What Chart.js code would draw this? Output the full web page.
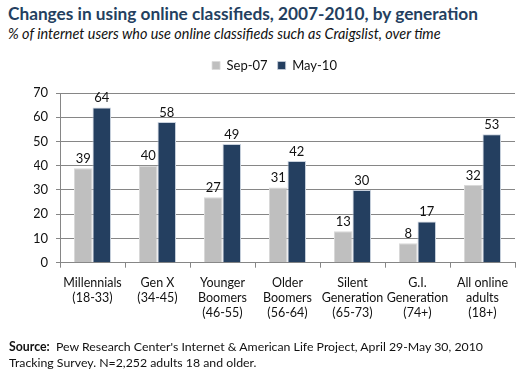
<!DOCTYPE html>
<html>
<head>
<meta charset="utf-8">
<script src="https://cdn.jsdelivr.net/npm/chart.js@4"></script>
<style>
  html, body { margin:0; padding:0; background:#fff; }
  body { width:530px; height:380px; position:relative; overflow:hidden; font-family: Lato, "Open Sans", sans-serif; }
  .txt { position:absolute; white-space:nowrap; }
  #title { left:8px; top:3px; font-size:19px; font-weight:bold; color:#243F60; }
  #subtitle { left:8px; top:25px; font-size:14px; font-style:italic; color:#111; }
  #source { left:9px; top:339px; font-size:12.5px; color:#111; line-height:16px; }
  #wrap { position:absolute; left:34px; top:45px; width:486px; height:305px; }
</style>
</head>
<body>
<div id="title" class="txt">Changes in using online classifieds, 2007-2010, by generation</div>
<div id="subtitle" class="txt">% of internet users who use online classifieds such as Craigslist, over time</div>
<div id="wrap"><canvas id="c"></canvas></div>
<div id="source" class="txt"><span id="src1"><b>Source:</b>&nbsp; Pew Research Center's Internet &amp; American Life Project, April 29-May 30, 2010</span><br>Tracking Survey. N=2,252 adults 18 and older.</div>
<script>
const categories = [
  ["Millennials", "(18-33)"],
  ["Gen X", "(34-45)"],
  ["Younger", "Boomers", "(46-55)"],
  ["Older", "Boomers", "(56-64)"],
  ["Silent", "Generation", "(65-73)"],
  ["G.I.", "Generation", "(74+)"],
  ["All online", "adults", "(18+)"]
];
const seriesNames = ["Sep-07", "May-10"];
const sep07 = [39, 40, 27, 31, 13, 8, 32];
const may10 = [64, 58, 49, 42, 30, 17, 53];
const yTicks = [0, 10, 20, 30, 40, 50, 60, 70];

// fit text widths to the reference
function fitWidth(el, measureEl, target) {
  let fs = parseFloat(getComputedStyle(el).fontSize);
  for (let k = 0; k < 6; k++) {
    const w = measureEl.getBoundingClientRect().width;
    fs = fs * target / w;
    el.style.fontSize = fs + 'px';
  }
}
fitWidth(document.getElementById('title'), document.getElementById('title'), 470);
fitWidth(document.getElementById('subtitle'), document.getElementById('subtitle'), 433);
fitWidth(document.getElementById('source'), document.getElementById('src1'), 474);

const FONT = 'Lato, "Open Sans", sans-serif';

const valueLabels = {
  id: 'valueLabels',
  beforeInit(chart) {
    const lg = chart.legend;
    if (lg) {
      const orig = lg.fit;
      lg.fit = function () { orig.call(this); this.height += 11; };
    }
  },
  afterDatasetsDraw(chart) {
    const ctx = chart.ctx;
    ctx.save();
    ctx.font = '13px ' + FONT;
    ctx.fillStyle = '#111';
    ctx.textAlign = 'center';
    ctx.textBaseline = 'bottom';
    chart.data.datasets.forEach((ds, di) => {
      const meta = chart.getDatasetMeta(di);
      meta.data.forEach((bar, i) => {
        ctx.fillText(String(ds.data[i]), bar.x, bar.y - 3);
      });
    });
    ctx.restore();
  }
};

new Chart(document.getElementById('c'), {
  type: 'bar',
  data: {
    labels: categories,
    datasets: [
      { label: seriesNames[0], data: sep07, backgroundColor: '#BFBFBF', borderColor: '#D9D9D9', borderWidth: {top:1,left:1,right:1,bottom:0}, categoryPercentage: 0.57, barPercentage: 1.0 },
      { label: seriesNames[1], data: may10, backgroundColor: '#243F60', borderColor: '#C9D2DE', borderWidth: {top:1,left:1,right:1,bottom:0}, categoryPercentage: 0.57, barPercentage: 1.0 }
    ]
  },
  options: {
    responsive: true,
    maintainAspectRatio: false,
    animation: false,
    layout: { padding: { left: 0, right: 5, top: 4, bottom: 0 } },
    plugins: {
      legend: {
        position: 'top',
        align: 'center',
        labels: { boxWidth: 8, boxHeight: 8, padding: 10, color: '#111', font: { family: FONT, size: 13 } }
      },
      tooltip: { enabled: false }
    },
    scales: {
      x: {
        offset: true,
        grid: { offset: true, drawOnChartArea: false, drawTicks: true, tickLength: 5, color: '#868686' },
        border: { color: '#868686' },
        ticks: { color: '#111', font: { family: FONT, size: 12.5 }, maxRotation: 0, autoSkip: false, padding: 8 },
        afterFit(scale) { scale.height = 87.3; }
      },
      y: {
        min: 0, max: 70,
        afterBuildTicks(scale) { scale.ticks = yTicks.map(v => ({ value: v })); },
        grid: { color: '#868686', tickLength: 4 },
        border: { color: '#868686' },
        ticks: { color: '#111', font: { family: FONT, size: 13 }, padding: 8 },
        afterFit(scale) { scale.width = 26; }
      }
    }
  },
  plugins: [valueLabels]
});
</script>
</body>
</html>
